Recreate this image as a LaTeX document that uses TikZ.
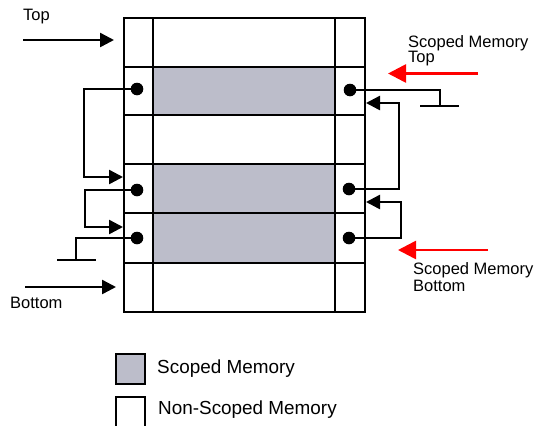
\documentclass[tikz,border=0pt]{standalone}
\usepackage{fontspec}
\setmainfont{Liberation Sans}
\usetikzlibrary{arrows.meta}
\definecolor{scoped}{RGB}{188,189,202}
\begin{document}
\begin{tikzpicture}[x=1pt,y=-1pt,
  grid/.style={line width=2.8pt},
  conn/.style={line width=2.5pt},
  arr/.style={conn,-{Triangle[length=14pt,width=14pt]}},
  redarr/.style={line width=2.6pt,red,-{Triangle[length=18pt,width=18pt]}},
  dot/.style={circle,fill=black,inner sep=0pt,minimum size=12.6pt},
  lbl/.style={font=\fontsize{16.5}{16}\selectfont,inner sep=0pt,anchor=base west},
  leg/.style={font=\fontsize{18.9}{20}\selectfont,inner sep=0pt,anchor=base west}
]
\useasboundingbox (0,0) rectangle (536,426);

% memory column
\fill[scoped] (153,67) rectangle (335,115);
\fill[scoped] (153,164) rectangle (335,263);
\draw[grid] (124,18) rectangle (365,312);
\draw[grid] (153,18) -- (153,312);
\draw[grid] (335,18) -- (335,312);
\foreach \y in {67,115,164,213,263} \draw[grid] (124,\y) -- (365,\y);

% dots
\node[dot] (l1) at (137,89) {};
\node[dot] (l2) at (137,190) {};
\node[dot] (l3) at (137,238) {};
\node[dot] (r1) at (350,90) {};
\node[dot] (r2) at (349,189) {};
\node[dot] (r3) at (349,238) {};

% targets
\coordinate (lin1) at (123,177);
\coordinate (lin2) at (123,227);
\coordinate (rin1) at (366,103);
\coordinate (rin2) at (366,202);
\coordinate (lg) at (76,260);
\coordinate (lgA) at (57,260);
\coordinate (lgB) at (96,260);
\coordinate (rg) at (440,106);
\coordinate (rgA) at (420,106);
\coordinate (rgB) at (459,106);

% left connectors
\draw[arr] (l1.center) -- (84,89) |- (lin1);
\draw[arr] (l2.center) -- (85,190) |- (lin2);
\draw[conn] (l3.center) -| (lg);
\draw[conn] (lgA) -- (lgB);

% right connectors
\draw[conn] (r1.center) -| (rg);
\draw[conn] (rgA) -- (rgB);
\draw[arr] (r2.center) -- (399,189) |- (rin1);
\draw[arr] (r3.center) -- (401,238) |- (rin2);

% top / bottom arrows
\coordinate (topS) at (23,40);
\coordinate (topE) at (114,40);
\coordinate (botS) at (25,287);
\coordinate (botE) at (116,287);
\draw[arr] (topS) -- (topE);
\draw[arr] (botS) -- (botE);

% red arrows
\coordinate (stS) at (478,73.5);
\coordinate (stE) at (388,73.5);
\coordinate (sbS) at (488,250);
\coordinate (sbE) at (398,250);
\draw[redarr] (stS) -- (stE);
\draw[redarr] (sbS) -- (sbE);

% labels
\node[lbl] (ttop) at (23,20) {Top};
\node[lbl] (tbot) at (10,308) {Bottom};
\node[lbl] (st1) at (408,47) {Scoped Memory};
\node[lbl] (st2) at (408,62) {Top};
\node[lbl] (sb1) at (413,274) {Scoped Memory};
\node[lbl] (sb2) at (413,291) {Bottom};

% legend
\draw[line width=2.8pt, fill=scoped] (116,354) rectangle (145,384);
\draw[line width=2.8pt] (116,430) -- (116,397) -- (145,397) -- (145,430);
\node[leg] (leg1) at (157,373.5) {Scoped Memory};
\node[leg] (leg2) at (158,414) {Non-Scoped Memory};
\end{tikzpicture}
\end{document}
